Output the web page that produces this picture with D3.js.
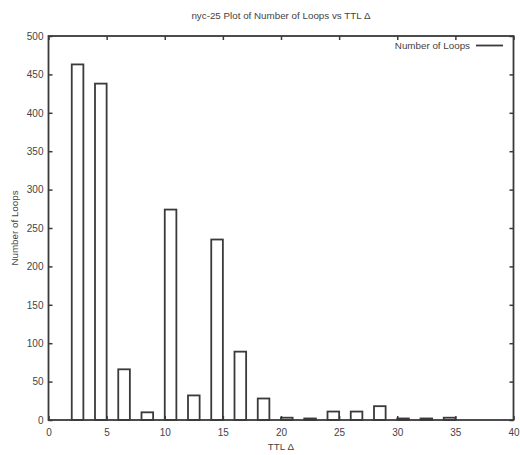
<!DOCTYPE html>
<html><head><meta charset="utf-8">
<script src="https://cdn.jsdelivr.net/npm/d3@7"></script>
<style>
html,body{margin:0;padding:0;background:#fff;}
text{font-family:"Liberation Sans",Arial,sans-serif;fill:#444;}
</style></head>
<body><svg id="chart" width="520" height="455"></svg>
<script>
const title = "nyc-25 Plot of Number of Loops vs TTL Δ";
const xLabel = "TTL Δ";
const yLabel = "Number of Loops";
const seriesName = "Number of Loops";
// bin start (TTL delta), each bin has width 1
const ttlBins = [0,1,2,3,4,5,6,7,8,9,10,11,12,13,14,15,16,17,18,19,20,21,22,23,24,25,26,27,28,29,30,31,32,33,34,35];
const loops  = [0,0,463,0,438,0,66,0,10,0,274,0,32,0,235,0,89,0,28,0,3,0,2,0,11,0,11,0,18,0,2,0,2,0,3,0];
const xTicks = [0,5,10,15,20,25,30,35,40];
const yTicks = [0,50,100,150,200,250,300,350,400,450,500];

const svg = d3.select("#chart");
const m = {left:48.5, right:513.5, top:36, bottom:420};
const x = d3.scaleLinear().domain([0,40]).range([m.left, m.right]);
const y = d3.scaleLinear().domain([0,500]).range([m.bottom, m.top]);
const ink = "#3a3a3a";

// bars
svg.append("g").selectAll("rect").data(ttlBins.map((b,i)=>({b, v:loops[i]})))
  .join("rect")
  .attr("x", d=>x(d.b)).attr("width", d=>x(d.b+1)-x(d.b))
  .attr("y", d=>y(d.v)).attr("height", d=>y(0)-y(d.v))
  .attr("fill","none").attr("stroke",ink).attr("stroke-width",1.8);

// axes (gnuplot style: inward ticks mirrored)
const tl = 4;
const gB = svg.append("g").attr("transform",`translate(0,${m.bottom})`)
  .call(d3.axisBottom(x).tickValues(xTicks).tickSize(-tl).tickPadding(9).tickFormat(d3.format("d")));
const gT = svg.append("g").attr("transform",`translate(0,${m.top})`)
  .call(d3.axisTop(x).tickValues(xTicks).tickSize(-tl).tickFormat(""));
const gL = svg.append("g").attr("transform",`translate(${m.left},0)`)
  .call(d3.axisLeft(y).tickValues(yTicks).tickSize(-tl).tickPadding(5).tickFormat(d3.format("d")));
const gR = svg.append("g").attr("transform",`translate(${m.right},0)`)
  .call(d3.axisRight(y).tickValues(yTicks).tickSize(-tl).tickFormat(""));
[gB,gT,gL,gR].forEach(g=>{
  g.select(".domain").remove();
  g.selectAll(".tick line").attr("stroke",ink).attr("stroke-width",1.5);
  g.selectAll(".tick text").style("font-size","10px").attr("fill","#444");
});
// frame
svg.append("rect").attr("x",m.left).attr("y",m.top)
  .attr("width",m.right-m.left).attr("height",m.bottom-m.top)
  .attr("fill","none").attr("stroke",ink).attr("stroke-width",1.8);

// title & labels
svg.append("text").attr("x",(m.left+m.right)/2).attr("y",19).attr("text-anchor","middle")
  .style("font-size","9.8px").text(title);
svg.append("text").attr("x",(m.left+m.right)/2).attr("y",450).attr("text-anchor","middle")
  .style("font-size","9.8px").text(xLabel);
svg.append("text").attr("transform",`translate(18,${(m.top+m.bottom)/2}) rotate(-90)`)
  .attr("text-anchor","middle").style("font-size","9.8px").text(yLabel);

// legend
svg.append("text").attr("x",470).attr("y",49).attr("text-anchor","end")
  .style("font-size","9.8px").text(seriesName);
svg.append("line").attr("x1",476).attr("x2",503).attr("y1",45.5).attr("y2",45.5)
  .attr("stroke",ink).attr("stroke-width",1.8);
</script></body></html>
